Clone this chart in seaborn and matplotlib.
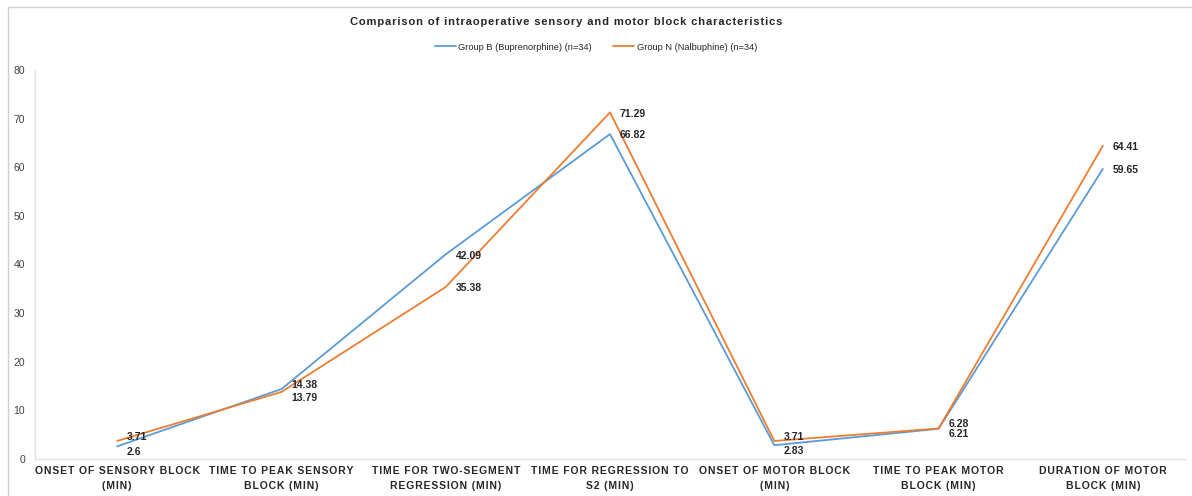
import matplotlib
matplotlib.use("Agg")
import matplotlib.pyplot as plt
import seaborn as sns
import pandas as pd
from matplotlib.patches import Rectangle
from matplotlib.lines import Line2D

categories = [
    "ONSET OF SENSORY BLOCK\n(MIN)",
    "TIME TO PEAK SENSORY\nBLOCK (MIN)",
    "TIME FOR TWO-SEGMENT\nREGRESSION (MIN)",
    "TIME FOR REGRESSION TO\nS2 (MIN)",
    "ONSET OF MOTOR BLOCK\n(MIN)",
    "TIME TO PEAK MOTOR\nBLOCK (MIN)",
    "DURATION OF MOTOR\nBLOCK (MIN)",
]
group_b_values = [2.6, 14.38, 42.09, 66.82, 2.83, 6.21, 59.65]
group_n_values = [3.71, 13.79, 35.38, 71.29, 3.71, 6.28, 64.41]
series_names = ["Group B (Buprenorphine) (n=34)", "Group N (Nalbuphine) (n=34)"]
y_ticks = [0, 10, 20, 30, 40, 50, 60, 70, 80]
title = "Comparison of intraoperative sensory and motor block characteristics"

colors = ["#5B9BD5", "#ED7D31"]
HAIR = "\u200a"


def spaced(text):
    """Widen the tracking of a label by putting hair spaces between letters."""
    return "\n".join(HAIR.join(line) for line in text.split("\n"))


sns.set_theme(style="white")
plt.rcParams["font.family"] = ["Liberation Sans", "DejaVu Sans"]

rows = []
for name, vals in zip(series_names, [group_b_values, group_n_values]):
    for i, v in enumerate(vals):
        rows.append({"pos": i, "value": v, "group": name})
df = pd.DataFrame(rows)

fig = plt.figure(figsize=(11.92, 4.96), dpi=100)
ax = fig.add_axes([35 / 1192, 1 - 459 / 496, (1185 - 35) / 1192, (459 - 70) / 496])

sns.lineplot(data=df, x="pos", y="value", hue="group", palette=colors,
             sort=False, linewidth=1.3, ax=ax, legend=False)

# value labels to the right of each point; close pairs are split up/down
for i in range(len(categories)):
    b, n = group_b_values[i], group_n_values[i]
    close = abs(b - n) < 3
    for v, other in ((b, n), (n, b)):
        if close:
            dy = 3.0 if v >= other else -4.0
        else:
            dy = -1
        ax.annotate(f"{v:g}", (i, v), xytext=(7, dy), textcoords="offset points",
                    ha="left", va="center", fontsize=7.5, fontweight="bold",
                    color="#262626")

ax.set_xlim(-0.5, 6.5)
ax.set_ylim(0, 80)
ax.set_xticks(range(len(categories)))
ax.set_xticklabels([spaced(c) for c in categories], fontsize=7.5,
                   fontweight="bold", color="#262626", linespacing=1.6)
ax.set_yticks(y_ticks)
ax.set_yticklabels([str(t) for t in y_ticks], fontsize=7.5, color="#404040")
ax.tick_params(axis="both", length=0)
ax.tick_params(axis="x", pad=5)
ax.tick_params(axis="y", pad=7)
ax.set_xlabel("")
ax.set_ylabel("")
for side in ["top", "right"]:
    ax.spines[side].set_visible(False)
for side in ["left", "bottom"]:
    ax.spines[side].set_color("#E0E0E0")
    ax.spines[side].set_linewidth(1.0)

fig.text(566 / 1192, 1 - 22 / 496, spaced(title), ha="center", va="center",
         fontsize=8, fontweight="bold", color="#262626")

handles = [Line2D([0], [0], color=c, lw=1.3) for c in colors]
fig.legend(handles, series_names, loc="center", bbox_to_anchor=(596 / 1192, 1 - 47 / 496),
           ncol=2, frameon=False, fontsize=6.7, handlelength=2.2, columnspacing=2.3,
           handletextpad=0.3)

# outer chart border
fig.patches.append(Rectangle((8 / 1192, -0.05), 1.1, 1 - 7 / 496 + 0.05,
                             transform=fig.transFigure, fill=False,
                             edgecolor="#D0D0D0", linewidth=1.0))

fig.savefig("out.png", dpi=100)
